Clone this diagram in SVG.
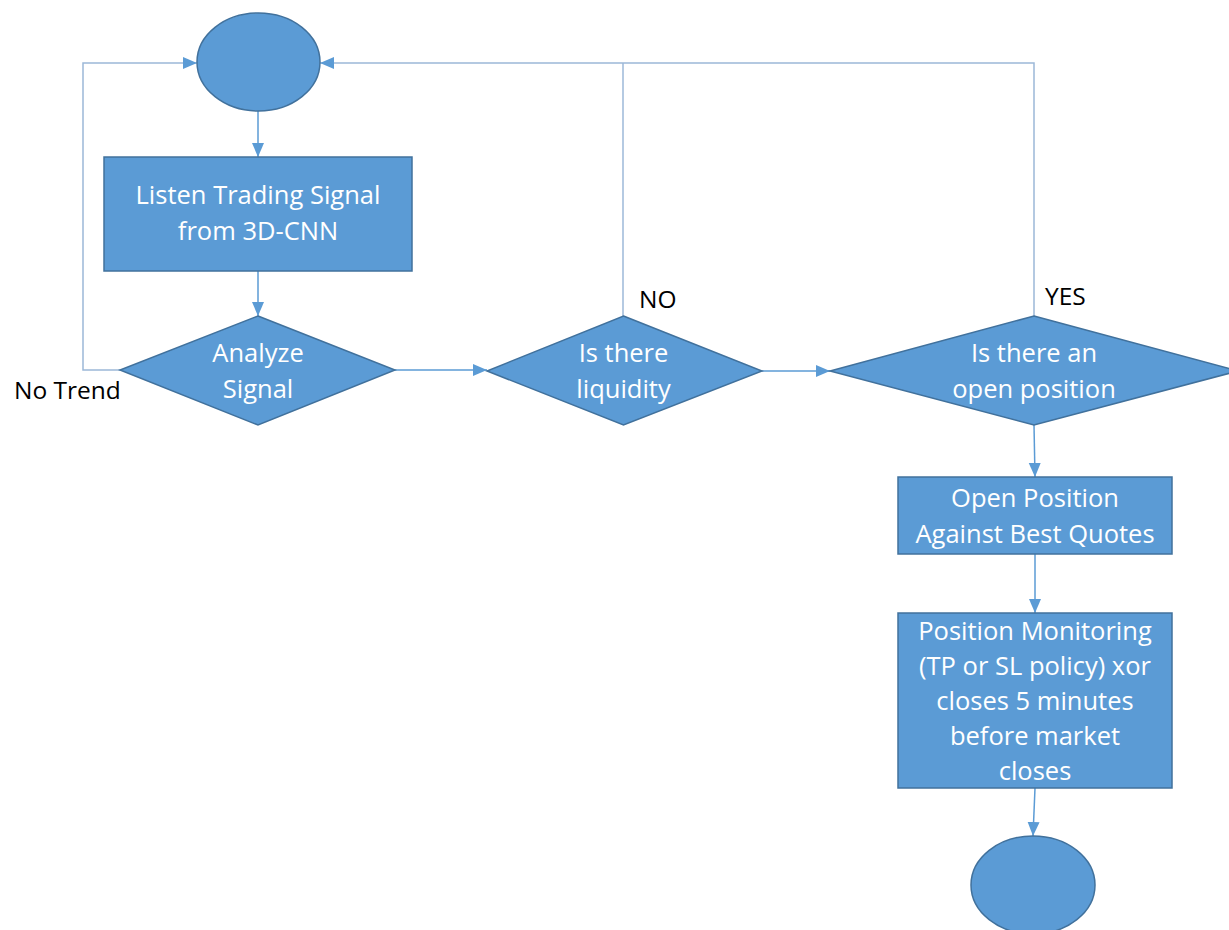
<svg xmlns="http://www.w3.org/2000/svg" width="1229" height="930" viewBox="0 0 1229 930">
<style>
.n{fill:#5B9BD5;stroke:#41719C;stroke-width:1.5}
.t{font-family:"Open Sans","Liberation Sans",sans-serif;font-size:25.5px;fill:#fff;text-anchor:middle}
.l{font-family:"Open Sans","Liberation Sans",sans-serif;font-size:24.5px;fill:#000}
.c{fill:none;stroke:#5B9BD5;stroke-width:1.5}
.p{fill:none;stroke:#9CB8D8;stroke-width:1.5}
</style>
<defs>
<marker id="a" markerUnits="userSpaceOnUse" markerWidth="14" markerHeight="14" viewBox="0 0 14 14" refX="14" refY="7" orient="auto">
<path d="M0,1 L14,7 L0,13 Z" fill="#5B9BD5"/>
</marker>
</defs>
<rect width="1229" height="930" fill="#fff"/>
<g id="connectors">
<path class="c" d="M258,111 V157" marker-end="url(#a)"/>
<path class="c" d="M258,271 V316" marker-end="url(#a)"/>
<path class="p" d="M120,370 H83 V63 H197" marker-end="url(#a)"/>
<path class="c" d="M395,370 H487" marker-end="url(#a)"/>
<path class="c" d="M762,371 H830" marker-end="url(#a)"/>
<path class="p" d="M623,316 V63"/>
<path class="p" d="M1034,316 V63 H320" marker-end="url(#a)"/>
<path class="c" d="M1034,425 L1035,477" marker-end="url(#a)"/>
<path class="c" d="M1035,554 V613" marker-end="url(#a)"/>
<path class="c" d="M1035,788 L1033,836" marker-end="url(#a)"/>
</g>
<g id="start"><ellipse class="n" cx="258.5" cy="62" rx="61.5" ry="49"/></g>
<g id="listen">
<rect class="n" x="104" y="157" width="308" height="114"/>
<text class="t" x="258" y="204">Listen Trading Signal</text>
<text class="t" x="258" y="240">from 3D-CNN</text>
</g>
<g id="analyze">
<polygon class="n" points="258,316 395,370 258,425 120,370"/>
<text class="t" x="258" y="362">Analyze</text>
<text class="t" x="258" y="398">Signal</text>
</g>
<g id="liquidity">
<polygon class="n" points="623.5,316 762,371 623.5,425 487,371"/>
<text class="t" x="623.5" y="362">Is there</text>
<text class="t" x="623.5" y="398">liquidity</text>
</g>
<g id="openq">
<polygon class="n" points="1034,316 1238,371 1034,425 830,371"/>
<text class="t" x="1034" y="362">Is there an</text>
<text class="t" x="1034" y="398">open position</text>
</g>
<g id="openpos">
<rect class="n" x="898" y="477" width="274" height="77"/>
<text class="t" x="1035" y="507">Open Position</text>
<text class="t" x="1035" y="543">Against Best Quotes</text>
</g>
<g id="monitor">
<rect class="n" x="898" y="613" width="274" height="175"/>
<text class="t" x="1035" y="640">Position Monitoring</text>
<text class="t" x="1035" y="675">(TP or SL policy) xor</text>
<text class="t" x="1035" y="710">closes 5 minutes</text>
<text class="t" x="1035" y="745">before market</text>
<text class="t" x="1035" y="780">closes</text>
</g>
<g id="end"><ellipse class="n" cx="1033" cy="885" rx="62" ry="49"/></g>
<g id="labels">
<text class="l" x="14" y="399">No Trend</text>
<text class="l" x="639" y="308">NO</text>
<text class="l" x="1045" y="305">YES</text>
</g>
</svg>
